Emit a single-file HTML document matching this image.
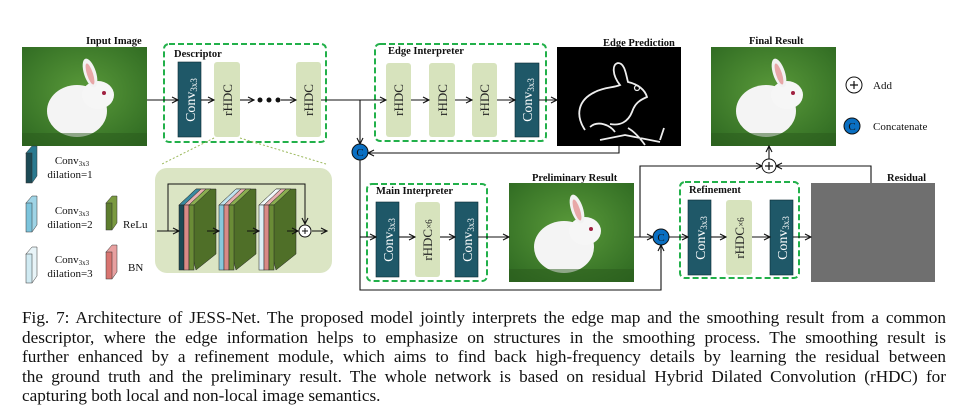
<!DOCTYPE html>
<html><head><meta charset="utf-8"><style>
body{margin:0;background:#fff;width:975px;height:419px;overflow:hidden}
.cap{position:absolute;left:22px;top:308px;width:924px;font-family:"Liberation Serif",serif;font-size:17.2px;line-height:19.5px;color:#111}
.cap div{text-align:justify;text-align-last:justify;white-space:nowrap}
.cap div.l{text-align-last:left}
</style></head><body>
<svg width="975" height="419" style="position:absolute;left:0;top:0" font-family="Liberation Serif, serif">
<defs>
<marker id="a" markerWidth="8" markerHeight="8" refX="7" refY="4" orient="auto" markerUnits="userSpaceOnUse"><path d="M1,1 L7,4 L1,7" fill="none" stroke="#111" stroke-width="1.1"/></marker>
<radialGradient id="g" cx="50%" cy="45%" r="70%"><stop offset="0" stop-color="#5a9a3a"/><stop offset="1" stop-color="#2f6a22"/></radialGradient>
<g id="bun">
<rect width="125" height="99" fill="url(#g)"/>
<ellipse cx="55" cy="64" rx="30" ry="26" fill="#f4f4f4"/>
<ellipse cx="76" cy="48" rx="16" ry="14" fill="#f6f6f6"/>
<ellipse cx="68" cy="26" rx="6" ry="15" fill="#f2f2f2" transform="rotate(-18 68 26)"/>
<ellipse cx="68" cy="27" rx="3" ry="11" fill="#e8a8a8" transform="rotate(-18 68 27)"/>
<circle cx="82" cy="46" r="2" fill="#a02040"/>
<rect y="86" width="125" height="13" fill="#2a5a1c" opacity=".5"/>
</g>
</defs>
<g font-weight="bold" font-size="10.5" fill="#111">
<text x="86" y="44">Input Image</text>
<text x="174" y="57">Descriptor</text>
<text x="388" y="54">Edge Interpreter</text>
<text x="603" y="46">Edge Prediction</text>
<text x="749" y="44">Final Result</text>
<text x="376" y="194">Main Interpreter</text>
<text x="532" y="181">Preliminary Result</text>
<text x="689" y="193">Refinement</text>
<text x="887" y="181">Residual</text>
</g>
<use href="#bun" x="22" y="47"/>
<use href="#bun" x="509" y="183"/>
<use href="#bun" x="711" y="47"/>
<rect x="557" y="47" width="124" height="99" fill="#000"/>
<path d="M585,130 C575,115 578,100 595,92 C605,87 613,88 620,85 C612,75 612,64 618,63 C625,63 626,75 628,82 C638,84 645,90 647,97 C640,100 635,103 632,112 C628,122 620,126 610,124 M590,127 C598,120 610,125 615,132 M600,140 L625,135 L660,142 M628,128 C635,132 640,138 645,145 M660,140 L664,128" fill="none" stroke="#eee" stroke-width="1.8"/>
<circle cx="637" cy="88" r="2.5" fill="none" stroke="#eee" stroke-width="1.2"/>
<rect x="811" y="183" width="124" height="99" fill="#6f6f6f"/>
<g fill="none" stroke="#22b04a" stroke-width="2" stroke-dasharray="6,3">
<rect x="164" y="44" width="162" height="98" rx="5"/>
<rect x="375" y="44" width="171" height="97" rx="5"/>
<rect x="367" y="184" width="120" height="97" rx="5"/>
<rect x="680" y="182" width="119" height="96" rx="5"/>
</g>
<g stroke="#0a2a33" stroke-width=".6" fill="#1f5868">
<rect x="178" y="62" width="23" height="75"/>
<rect x="515" y="63" width="24" height="74"/>
<rect x="376" y="202" width="23" height="75"/>
<rect x="455" y="202" width="23" height="75"/>
<rect x="688" y="200" width="23" height="75"/>
<rect x="770" y="200" width="23" height="75"/>
</g>
<g fill="#d7e3bd">
<rect x="214" y="62" width="26" height="75" rx="3"/>
<rect x="296" y="62" width="25" height="75" rx="3"/>
<rect x="386" y="63" width="25" height="74" rx="3"/>
<rect x="429" y="63" width="26" height="74" rx="3"/>
<rect x="472" y="63" width="25" height="74" rx="3"/>
<rect x="415" y="202" width="25" height="75" rx="3"/>
<rect x="726" y="200" width="26" height="75" rx="3"/>
</g>
<g font-size="14" fill="#fff">
<text transform="translate(195,100) rotate(-90)" text-anchor="middle">Conv<tspan font-size="9" dy="2">3x3</tspan></text>
<text transform="translate(532,100) rotate(-90)" text-anchor="middle">Conv<tspan font-size="9" dy="2">3x3</tspan></text>
<text transform="translate(393,240) rotate(-90)" text-anchor="middle">Conv<tspan font-size="9" dy="2">3x3</tspan></text>
<text transform="translate(472,240) rotate(-90)" text-anchor="middle">Conv<tspan font-size="9" dy="2">3x3</tspan></text>
<text transform="translate(705,238) rotate(-90)" text-anchor="middle">Conv<tspan font-size="9" dy="2">3x3</tspan></text>
<text transform="translate(787,238) rotate(-90)" text-anchor="middle">Conv<tspan font-size="9" dy="2">3x3</tspan></text>
</g>
<g font-size="13" fill="#222" text-anchor="middle">
<text transform="translate(232,100) rotate(-90)">rHDC</text>
<text transform="translate(313,100) rotate(-90)">rHDC</text>
<text transform="translate(403,100) rotate(-90)">rHDC</text>
<text transform="translate(447,100) rotate(-90)">rHDC</text>
<text transform="translate(489,100) rotate(-90)">rHDC</text>
<text transform="translate(432,240) rotate(-90)">rHDC<tspan font-size="9">×6</tspan></text>
<text transform="translate(744,238) rotate(-90)">rHDC<tspan font-size="9">×6</tspan></text>
</g>
<g fill="none" stroke="#111" stroke-width="1.1">
<path d="M147,100 H178" marker-end="url(#a)"/>
<path d="M201,100 H214" marker-end="url(#a)"/>
<path d="M240,100 H254" marker-end="url(#a)"/>
<path d="M281,100 H296" marker-end="url(#a)"/>
<path d="M321,100 H386" marker-end="url(#a)"/>
<path d="M411,100 H429" marker-end="url(#a)"/>
<path d="M455,100 H472" marker-end="url(#a)"/>
<path d="M497,100 H515" marker-end="url(#a)"/>
<path d="M539,100 H557" marker-end="url(#a)"/>
<path d="M360,100 V144" marker-end="url(#a)"/>
<path d="M619,146 V153 H368" marker-end="url(#a)"/>
<path d="M360,160 V290 H661 V245" />
<path d="M661,253 V245" marker-end="url(#a)"/>
<path d="M360,237 H376" marker-end="url(#a)"/>
<path d="M399,237 H415" marker-end="url(#a)"/>
<path d="M440,237 H455" marker-end="url(#a)"/>
<path d="M478,237 H509" marker-end="url(#a)"/>
<path d="M634,237 H653" marker-end="url(#a)"/>
<path d="M669,237 H688" marker-end="url(#a)"/>
<path d="M711,237 H726" marker-end="url(#a)"/>
<path d="M752,237 H770" marker-end="url(#a)"/>
<path d="M793,237 H811" marker-end="url(#a)"/>
<path d="M640,237 V166 H762" marker-end="url(#a)"/>
<path d="M871,183 V166 H776" marker-end="url(#a)"/>
<path d="M769,159 V146" marker-end="url(#a)"/>
</g>
<g fill="#111"><circle cx="260" cy="100" r="2.5"/><circle cx="269" cy="100" r="2.5"/><circle cx="278" cy="100" r="2.5"/></g>
<g stroke="#111" stroke-width="1">
<circle cx="360" cy="152" r="8" fill="#0a6fc2"/>
<circle cx="661" cy="237" r="8" fill="#0a6fc2"/>
<circle cx="852" cy="126" r="8" fill="#0a6fc2"/>
<circle cx="769" cy="166" r="7" fill="#fff"/>
<circle cx="854" cy="85" r="8" fill="#fff"/>
</g>
<g font-size="11" fill="#111" text-anchor="middle"><text x="360" y="156">C</text><text x="661" y="241">C</text><text x="852" y="130">C</text></g>
<path d="M765,166 H773 M769,162 V170 M850,85 H858 M854,81 V89" stroke="#111" stroke-width="1.2"/>
<g font-size="11" fill="#111"><text x="873" y="89">Add</text><text x="873" y="130">Concatenate</text></g>
<g stroke="#333" stroke-width=".5">
<path d="M26,153 l6,-7 h5 v30 l-5,7 z" fill="#2a7a90"/><rect x="26" y="153" width="6" height="30" fill="#1c4a55"/>
<path d="M26,203 l6,-7 h5 v29 l-5,7 z" fill="#9fd4e6"/><rect x="26" y="203" width="6" height="29" fill="#7cc4dc"/>
<path d="M26,254 l6,-7 h5 v29 l-5,7 z" fill="#e8f4f8"/><rect x="26" y="254" width="6" height="29" fill="#d0eaf2"/>
<path d="M106,203 l6,-7 h5 v27 l-5,7 z" fill="#7a9a40"/><rect x="106" y="203" width="6" height="27" fill="#5d7d2e"/>
<path d="M106,252 l6,-7 h5 v27 l-5,7 z" fill="#e8a0a0"/><rect x="106" y="252" width="6" height="27" fill="#d87470"/>
</g>
<g font-size="11" fill="#111" text-anchor="middle">
<text x="72" y="164">Conv<tspan font-size="7" dy="2">3x3</tspan></text><text x="70" y="178">dilation=1</text>
<text x="72" y="214">Conv<tspan font-size="7" dy="2">3x3</tspan></text><text x="70" y="228">dilation=2</text>
<text x="72" y="263">Conv<tspan font-size="7" dy="2">3x3</tspan></text><text x="70" y="277">dilation=3</text>
</g>
<g font-size="11" fill="#111"><text x="123" y="228">ReLu</text><text x="128" y="271">BN</text></g>
<path d="M214,138 L162,164 M240,138 L326,164" stroke="#9ab85a" stroke-width="1" stroke-dasharray="2,2"/>
<rect x="155" y="168" width="177" height="105" rx="12" fill="#dbe5c4"/>
<g stroke="#222" stroke-width=".5">
<g>
<path d="M179,205 l17,-16 h20 v65 l-20,16 z" fill="#4f6f28"/>
<path d="M179,205 l17,-16 h5 l-17,16z" fill="#3a8aa0"/><rect x="179" y="205" width="5" height="65" fill="#1c4a55"/>
<path d="M184,205 l17,-16 h5 l-17,16z" fill="#e8b0b0"/><rect x="184" y="205" width="5" height="65" fill="#d88a86"/>
<path d="M189,205 l17,-16 h5 l-17,16z" fill="#8aae50"/><rect x="189" y="205" width="5" height="65" fill="#6a8c36"/>
</g>
<g transform="translate(40,0)">
<path d="M179,205 l17,-16 h20 v65 l-20,16 z" fill="#4f6f28"/>
<path d="M179,205 l17,-16 h5 l-17,16z" fill="#bfe2ee"/><rect x="179" y="205" width="5" height="65" fill="#88c8dc"/>
<path d="M184,205 l17,-16 h5 l-17,16z" fill="#e8b0b0"/><rect x="184" y="205" width="5" height="65" fill="#d88a86"/>
<path d="M189,205 l17,-16 h5 l-17,16z" fill="#8aae50"/><rect x="189" y="205" width="5" height="65" fill="#6a8c36"/>
</g>
<g transform="translate(80,0)">
<path d="M179,205 l17,-16 h20 v65 l-20,16 z" fill="#4f6f28"/>
<path d="M179,205 l17,-16 h5 l-17,16z" fill="#f0f8fa"/><rect x="179" y="205" width="5" height="65" fill="#dcf0f6"/>
<path d="M184,205 l17,-16 h5 l-17,16z" fill="#e8b0b0"/><rect x="184" y="205" width="5" height="65" fill="#d88a86"/>
<path d="M189,205 l17,-16 h5 l-17,16z" fill="#8aae50"/><rect x="189" y="205" width="5" height="65" fill="#6a8c36"/>
</g>
</g>
<g fill="none" stroke="#111" stroke-width="1">
<path d="M157,231 H179" marker-end="url(#a)"/>
<path d="M207,231 H219" marker-end="url(#a)"/>
<path d="M247,231 H259" marker-end="url(#a)"/>
<path d="M287,231 H298" marker-end="url(#a)"/>
<path d="M168,231 V184 H305 V224" marker-end="url(#a)"/>
<path d="M312,231 H327" marker-end="url(#a)"/>
</g>
<circle cx="305" cy="231" r="6" fill="#fff" stroke="#111"/>
<path d="M302,231 h6 M305,228 v6" stroke="#111"/>
</svg>
<div class="cap">
<div>Fig. 7: Architecture of JESS-Net. The proposed model jointly interprets the edge map and the smoothing result from a common</div>
<div>descriptor, where the edge information helps to emphasize on structures in the smoothing process. The smoothing result is</div>
<div>further enhanced by a refinement module, which aims to find back high-frequency details by learning the residual between</div>
<div>the ground truth and the preliminary result. The whole network is based on residual Hybrid Dilated Convolution (rHDC) for</div>
<div class="l">capturing both local and non-local image semantics.</div>
</div>
</body></html>
